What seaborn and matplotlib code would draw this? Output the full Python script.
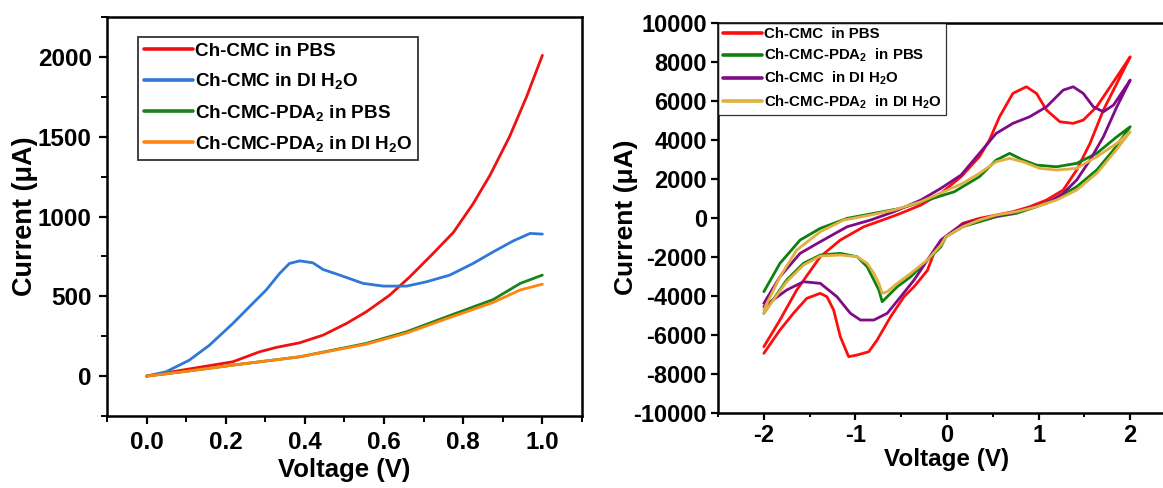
import numpy as np
import pandas as pd
import matplotlib
matplotlib.use('Agg')
import matplotlib.pyplot as plt
import seaborn as sns
from matplotlib.ticker import MultipleLocator

# left panel: LSV curves
lsv_red_v = [0, 0.091, 0.218, 0.285, 0.328, 0.387, 0.446, 0.505, 0.555, 0.614, 0.665, 0.724, 0.775, 0.825, 0.868, 0.917, 0.96, 1.0]
lsv_red_i = [0, 38, 90, 152, 180, 209, 257, 330, 403, 507, 622, 769, 900, 1080, 1260, 1500, 1750, 2010]
lsv_blue_v = [0, 0.049, 0.108, 0.159, 0.218, 0.268, 0.302, 0.336, 0.361, 0.387, 0.420, 0.446, 0.488, 0.547, 0.598, 0.657, 0.707, 0.766, 0.825, 0.876, 0.927, 0.969, 1.0]
lsv_blue_i = [0, 27, 100, 194, 330, 455, 539, 643, 706, 722, 710, 668, 633, 581, 564, 564, 591, 633, 706, 779, 848, 894, 890]
lsv_green_v = [0, 0.1, 0.218, 0.387, 0.555, 0.657, 0.758, 0.876, 0.944, 1.0]
lsv_green_i = [0, 30, 69, 121, 205, 278, 372, 480, 581, 633]
lsv_orange_v = [0, 0.1, 0.218, 0.387, 0.555, 0.657, 0.758, 0.876, 0.944, 1.0]
lsv_orange_i = [0, 30, 69, 121, 200, 270, 360, 462, 540, 576]

lsv_labels = ['Ch-CMC in PBS', 'Ch-CMC in DI H$_2$O',
              'Ch-CMC-PDA$_2$ in PBS', 'Ch-CMC-PDA$_2$ in DI H$_2$O']
lsv_colors = ['#ee1111', '#2f78d6', '#198419', '#ff8410']

# right panel: CV loops (forward scan then reverse scan)
cv_red_fv = [-2.0, -1.824, -1.641, -1.384, -1.165, -0.909, -0.653, -0.506, -0.286, -0.067, 0.153, 0.353, 0.463, 0.573, 0.719, 0.866, 0.976, 1.086, 1.232, 1.378, 1.487, 1.634, 1.781, 1.927, 2.0]
cv_red_fi = [-6615, -5246, -3708, -2000, -1144, -462, -31, 226, 651, 1251, 2102, 3128, 3985, 5179, 6379, 6718, 6379, 5523, 4923, 4841, 5010, 5692, 6718, 7743, 8256]
cv_red_rv = [2.0, 1.854, 1.707, 1.561, 1.415, 1.268, 1.086, 0.902, 0.719, 0.537, 0.353, 0.170, 0.079, -0.012, -0.122, -0.214, -0.36, -0.47, -0.616, -0.763, -0.854, -0.982, -1.074, -1.165, -1.238, -1.311, -1.384, -1.531, -1.677, -1.824, -2.0]
cv_red_ri = [8256, 6892, 5523, 3815, 2446, 1421, 908, 564, 308, 138, -31, -287, -650, -950, -1550, -2700, -3538, -4051, -5077, -6272, -6872, -7041, -7128, -6102, -4733, -4051, -3877, -4133, -4902, -5759, -6954]

cv_green_fv = [-2.0, -1.824, -1.604, -1.384, -1.091, -0.799, -0.506, -0.214, 0.079, 0.17, 0.353, 0.537, 0.683, 0.829, 0.976, 1.195, 1.415, 1.634, 1.854, 2.0]
cv_green_fi = [-3795, -2338, -1144, -544, -31, 226, 482, 908, 1333, 1590, 2102, 2959, 3302, 2959, 2702, 2615, 2790, 3302, 4154, 4667]
cv_green_rv = [2.0, 1.817, 1.634, 1.415, 1.195, 0.976, 0.756, 0.537, 0.353, 0.17, -0.012, -0.067, -0.214, -0.396, -0.543, -0.653, -0.708, -0.744, -0.799, -0.872, -0.982, -1.165, -1.384, -1.567, -1.751, -2.0]
cv_green_ri = [4667, 3472, 2446, 1590, 995, 564, 226, 51, -205, -462, -974, -1487, -2169, -3025, -3538, -4051, -4307, -3708, -3195, -2513, -2000, -1826, -1913, -2338, -3195, -4902]

cv_purple_fv = [-2.0, -1.824, -1.604, -1.384, -1.091, -0.835, -0.580, -0.286, -0.067, 0.153, 0.353, 0.537, 0.719, 0.902, 1.086, 1.268, 1.378, 1.487, 1.597, 1.707, 1.817, 1.927, 2.0]
cv_purple_fi = [-4390, -3025, -1826, -1231, -462, -118, 308, 908, 1508, 2190, 3302, 4328, 4841, 5179, 5692, 6548, 6718, 6379, 5692, 5436, 5779, 6548, 7061]
cv_purple_rv = [2.0, 1.854, 1.707, 1.561, 1.415, 1.268, 1.086, 0.902, 0.719, 0.537, 0.353, 0.170, 0.079, -0.067, -0.214, -0.36, -0.506, -0.653, -0.799, -0.945, -1.055, -1.202, -1.384, -1.567, -1.751, -2.0]
cv_purple_ri = [7061, 5692, 4154, 2959, 1933, 1251, 738, 500, 250, 80, -100, -350, -631, -1144, -2169, -3195, -4051, -4902, -5246, -5246, -4902, -4051, -3364, -3282, -3708, -4564]

cv_gold_fv = [-2.0, -1.824, -1.641, -1.384, -1.128, -0.835, -0.580, -0.286, 0.006, 0.17, 0.353, 0.537, 0.683, 0.829, 1.012, 1.195, 1.415, 1.634, 1.854, 2.0]
cv_gold_fi = [-4733, -3025, -1657, -718, -118, 138, 395, 821, 1420, 1764, 2277, 2872, 3046, 2872, 2533, 2446, 2533, 3128, 3815, 4410]
cv_gold_rv = [2.0, 1.817, 1.634, 1.415, 1.195, 0.976, 0.756, 0.537, 0.353, 0.17, -0.012, -0.067, -0.214, -0.396, -0.543, -0.653, -0.708, -0.744, -0.799, -0.872, -0.982, -1.165, -1.384, -1.567, -1.751, -2.0]
cv_gold_ri = [4410, 3302, 2277, 1421, 908, 564, 308, 138, -118, -462, -974, -1400, -2169, -2851, -3364, -3795, -3877, -3364, -2851, -2338, -2000, -1913, -1965, -2425, -3282, -4902]

cv_labels = ['Ch-CMC  in PBS', 'Ch-CMC-PDA$_2$  in PBS',
             'Ch-CMC  in DI H$_2$O', 'Ch-CMC-PDA$_2$  in DI H$_2$O']
cv_colors = ['#ff0d0d', '#0f800f', '#800a88', '#e0b040']

sns.set_theme(style='ticks')
plt.rcParams['font.family'] = ['Liberation Sans', 'DejaVu Sans']
plt.rcParams['font.weight'] = 'bold'
plt.rcParams['axes.labelweight'] = 'bold'
plt.rcParams['axes.unicode_minus'] = False
plt.rcParams['text.color'] = 'black'
plt.rcParams['axes.labelcolor'] = 'black'
plt.rcParams['xtick.color'] = 'black'
plt.rcParams['ytick.color'] = 'black'
plt.rcParams['mathtext.fontset'] = 'custom'
plt.rcParams['mathtext.rm'] = 'Liberation Sans:bold'
plt.rcParams['mathtext.it'] = 'Liberation Sans:bold'
plt.rcParams['mathtext.bf'] = 'Liberation Sans:bold'

# tables for seaborn
lsv_df = pd.concat([
    pd.DataFrame({'V': v, 'I': i, 'sample': lab})
    for v, i, lab in zip([lsv_red_v, lsv_blue_v, lsv_green_v, lsv_orange_v],
                         [lsv_red_i, lsv_blue_i, lsv_green_i, lsv_orange_i],
                         lsv_labels)
], ignore_index=True)

cv_df = pd.concat([
    pd.DataFrame({'V': fv + rv, 'I': fi + ri, 'sample': lab})
    for fv, fi, rv, ri, lab in zip(
        [cv_red_fv, cv_green_fv, cv_purple_fv, cv_gold_fv],
        [cv_red_fi, cv_green_fi, cv_purple_fi, cv_gold_fi],
        [cv_red_rv, cv_green_rv, cv_purple_rv, cv_gold_rv],
        [cv_red_ri, cv_green_ri, cv_purple_ri, cv_gold_ri],
        cv_labels)
], ignore_index=True)

fig = plt.figure(figsize=(11.63, 4.88), dpi=100)
ax1 = fig.add_axes([0.092, 0.1475, 0.4084, 0.8176])
ax2 = fig.add_axes([0.6174, 0.1543, 0.3938, 0.799])

sns.lineplot(data=lsv_df, x='V', y='I', hue='sample', hue_order=lsv_labels,
             palette=lsv_colors, sort=False, estimator=None, linewidth=2.0, ax=ax1)
sns.lineplot(data=cv_df, x='V', y='I', hue='sample', hue_order=cv_labels,
             palette=cv_colors, sort=False, estimator=None, linewidth=2.0, ax=ax2)

# left axes
ax1.set_xlim(-0.1, 1.1)
ax1.set_ylim(-250, 2250)
ax1.xaxis.set_minor_locator(MultipleLocator(0.1))
ax1.yaxis.set_major_locator(MultipleLocator(500))
ax1.yaxis.set_minor_locator(MultipleLocator(250))
ax1.set_xticks([0, 0.2, 0.4, 0.6, 0.8, 1.0])
ax1.set_xticklabels(['0.0', '0.2', '0.4', '0.6', '0.8', '1.0'])
ax1.set_xlabel('Voltage (V)', fontsize=18.5, fontweight='bold', labelpad=3)
ax1.set_ylabel('Current (μA)', fontsize=19.5, fontweight='bold', labelpad=0)
ax1.tick_params(axis='both', which='major', direction='out', length=6, width=1.6, labelsize=17.5, pad=5)
ax1.tick_params(axis='both', which='minor', direction='out', length=4, width=1.4)
for s in ax1.spines.values():
    s.set_linewidth(1.8)
    s.set_visible(True)
    s.set_color('black')
h, l = ax1.get_legend_handles_labels()
leg1 = ax1.legend(h, l, loc='upper left', bbox_to_anchor=(0.065, 0.95), borderaxespad=0,
                  fontsize=13.6, frameon=True, fancybox=False, edgecolor='black',
                  handlelength=2.6, handletextpad=0.1, labelspacing=0.6, borderpad=0.3)
leg1.get_frame().set_linewidth(1.3)
for line in leg1.get_lines():
    line.set_linewidth(2.6)

# right axes
ax2.set_xlim(-2.5, 2.5)
ax2.set_ylim(-10000, 10000)
ax2.xaxis.set_major_locator(MultipleLocator(1))
ax2.xaxis.set_minor_locator(MultipleLocator(0.5))
ax2.yaxis.set_major_locator(MultipleLocator(2000))
ax2.set_xlabel('Voltage (V)', fontsize=17.5, fontweight='bold', labelpad=1)
ax2.set_ylabel('Current (μA)', fontsize=19, fontweight='bold', labelpad=-3)
ax2.tick_params(axis='both', which='major', direction='out', length=5, width=1.6, labelsize=17, pad=3)
ax2.tick_params(axis='both', which='minor', direction='out', length=3, width=1.4)
for s in ax2.spines.values():
    s.set_linewidth(1.8)
    s.set_visible(True)
    s.set_color('black')
h, l = ax2.get_legend_handles_labels()
leg2 = ax2.legend(h, l, loc='upper left', borderaxespad=0, fontsize=10.8,
                  frameon=True, fancybox=False, edgecolor='black',
                  handlelength=2.6, handletextpad=0.15, labelspacing=0.38, borderpad=0.3)
leg2.get_frame().set_linewidth(0.9)
for line in leg2.get_lines():
    line.set_linewidth(2.6)

plt.savefig('out.png', dpi=100)
